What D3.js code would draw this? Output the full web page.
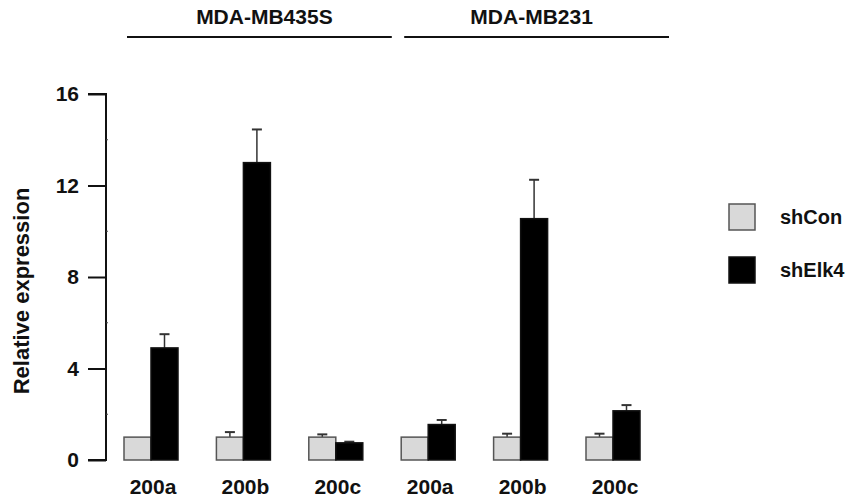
<!DOCTYPE html>
<html><head><meta charset="utf-8">
<script src="https://cdn.jsdelivr.net/npm/d3@7"></script>
<style>body{margin:0;background:#fff}svg{display:block}text{font-family:Arial,"Liberation Sans",sans-serif;font-weight:bold}</style>
</head><body><svg id="c" width="850" height="499"></svg>
<script>
const categories = ["200a","200b","200c","200a","200b","200c"];
const cellLines = ["MDA-MB435S","MDA-MB231"];
const cellLineOf = [0,0,0,1,1,1];
const series = ["shCon","shElk4"];
const shConValues = [1,1,1,1,1,1];
const shConErrors = [0,0.22,0.12,0,0.15,0.15];
const shElk4Values = [4.9,13.0,0.75,1.55,10.55,2.15];
const shElk4Errors = [0.6,1.45,0.05,0.2,1.7,0.25];
const yTicks = [0,4,8,12,16];
const yMinorTicks = [2,6,10,14];

const svg = d3.select("#c");
const y = d3.scaleLinear().domain([0,16]).range([460,94]);
const idx = d3.range(categories.length);
const x = d3.scalePoint().domain(idx).range([151,613]);
const xs = d3.scaleBand().domain(series).range([-27,27]).padding(0);
const colors = {shCon:"#d9d9d9", shElk4:"#000"};
const strokes = {shCon:"#555", shElk4:"#111"};

// y axis
const yAxis = d3.axisLeft(y).tickValues(yTicks).tickSize(18).tickPadding(9).tickFormat(d3.format("d"));
const ga = svg.append("g").attr("transform","translate(106,0)").call(yAxis);
ga.select(".domain").attr("stroke","#111").attr("stroke-width",2).attr("d","M-18,"+y(16)+"H0V"+y(0)+"H-18");
ga.selectAll(".tick line").attr("stroke","#111").attr("stroke-width",2);
ga.selectAll(".tick text").attr("font-size",21).attr("fill","#111").style("font-weight","bold");
svg.append("g").selectAll("line").data(yMinorTicks).join("line")
  .attr("x1",106).attr("x2",108).attr("y1",d=>y(d)).attr("y2",d=>y(d)).attr("stroke","#444").attr("stroke-width",1);

svg.append("text").attr("transform","translate(29,291) rotate(-90)")
  .attr("text-anchor","middle").attr("font-size",22).attr("fill","#111").text("Relative expression");

// bars
const rows = [];
idx.forEach(i=>{
  rows.push({i, s:"shCon", v:shConValues[i], e:shConErrors[i]});
  rows.push({i, s:"shElk4", v:shElk4Values[i], e:shElk4Errors[i]});
});
const gb = svg.append("g");
gb.selectAll("g.err").data(rows.filter(r=>r.e>0)).join("g").attr("class","err").each(function(r){
  const cx = x(r.i)+xs(r.s)+xs.bandwidth()/2;
  const g = d3.select(this);
  g.append("line").attr("x1",cx).attr("x2",cx).attr("y1",y(r.v)).attr("y2",y(r.v+r.e)).attr("stroke","#333").attr("stroke-width",1.5);
  g.append("line").attr("x1",cx-5).attr("x2",cx+5).attr("y1",y(r.v+r.e)).attr("y2",y(r.v+r.e)).attr("stroke","#333").attr("stroke-width",2);
});
gb.selectAll("rect").data(rows).join("rect")
  .attr("x",r=>x(r.i)+xs(r.s)).attr("width",xs.bandwidth())
  .attr("y",r=>y(r.v)).attr("height",r=>y(0)-y(r.v))
  .attr("fill",r=>colors[r.s]).attr("stroke",r=>strokes[r.s]).attr("stroke-width",1.5);

// category labels
svg.append("g").selectAll("text").data(idx).join("text")
  .attr("x",i=>x(i)+2).attr("y",494).attr("text-anchor","middle").attr("font-size",21).attr("fill","#111")
  .text(i=>categories[i]);

// cell line headers
const spans = cellLines.map((name,k)=>{
  const ids = idx.filter(i=>cellLineOf[i]===k);
  return {name, x0:x(ids[0])-24, x1:x(ids[ids.length-1])+56};
});
const gh = svg.append("g");
gh.selectAll("line").data(spans).join("line")
  .attr("x1",d=>d.x0).attr("x2",d=>d.x1).attr("y1",37).attr("y2",37).attr("stroke","#111").attr("stroke-width",2);
gh.selectAll("text").data(spans).join("text")
  .attr("x",(d,k)=>(d.x0+d.x1)/2+(k===0?5:-5)).attr("y",24).attr("text-anchor","middle").attr("font-size",21).attr("fill","#111").text(d=>d.name);

// legend
const lg = svg.append("g").selectAll("g").data(series).join("g")
  .attr("transform",(d,k)=>"translate(729,"+(204+k*53)+")");
lg.append("rect").attr("width",26).attr("height",26).attr("fill",d=>colors[d]).attr("stroke",d=>strokes[d]).attr("stroke-width",1.5);
lg.append("text").attr("x",51).attr("y",20).attr("font-size",20).attr("fill","#111").text(d=>d);
</script></body></html>
